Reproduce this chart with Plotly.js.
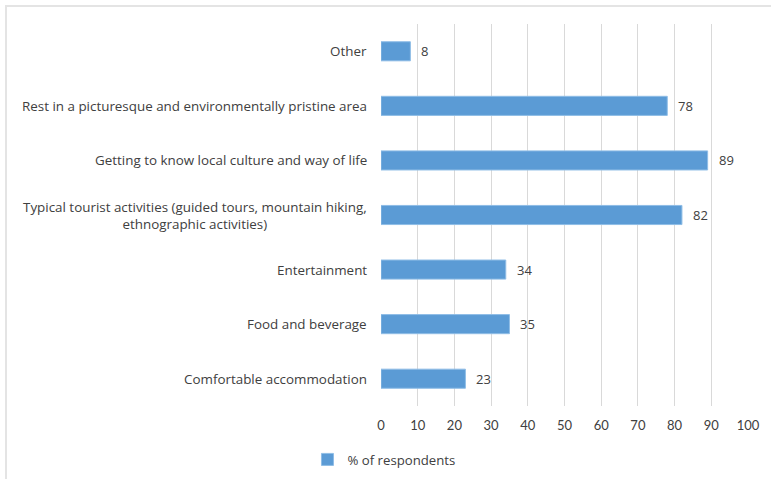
<!DOCTYPE html>
<html>
<head>
<meta charset="utf-8">
<script src="https://cdn.plot.ly/plotly-3.0.1.min.js"></script>
<style>
  html, body { margin: 0; padding: 0; background: #fff; overflow: hidden; }
  #wrap { position: relative; width: 771px; height: 479px; overflow: hidden; }
  #plot { width: 771px; height: 479px; }
  #frame { position: absolute; left: 5px; top: 5px; width: 800px; height: 520px;
           border: 2px solid #e4e4e4; pointer-events: none; box-sizing: border-box; }
</style>
</head>
<body>
<div id="wrap">
  <div id="plot"></div>
  <div id="frame"></div>
</div>
<script>
// Categories listed top to bottom as in the chart
const categories = [
  "Other",
  "Rest in a picturesque and environmentally pristine area",
  "Getting to know local culture and way of life",
  "Typical tourist activities (guided tours, mountain hiking,<br>ethnographic activities)",
  "Entertainment",
  "Food and beverage",
  "Comfortable accommodation"
];
const values = [8, 78, 89, 82, 34, 35, 23];
const seriesName = "% of respondents";
const xTicks = [0, 10, 20, 30, 40, 50, 60, 70, 80, 90, 100];

const FONT = "'Open Sans', Lato, sans-serif";
const TICKFONT = "Lato, 'Open Sans', sans-serif";

const trace = {
  type: "bar",
  orientation: "h",
  name: seriesName,
  y: categories,
  x: values,
  marker: { color: "#5B9BD5", line: { color: "#8fbde6", width: 1 } },
  hoverinfo: "x+y",
  showlegend: true
};

const annotations = [];
// category labels (centered multi-line, right anchored at the axis)
categories.forEach((c) => {
  annotations.push({
    xref: "paper", yref: "y", x: 0, y: c,
    xanchor: "right", yanchor: "middle", xshift: -12,
    text: c, showarrow: false, align: "center",
    font: { family: FONT, size: 13.4, color: "#404040" }
  });
});
// value labels
categories.forEach((c, i) => {
  annotations.push({
    xref: "x", yref: "y", x: values[i], y: c,
    xanchor: "left", yanchor: "middle", xshift: 9,
    text: String(values[i]), showarrow: false,
    font: { family: FONT, size: 13, color: "#404040" }
  });
});

const layout = {
  width: 771, height: 479,
  margin: { l: 381, r: 23, t: 24, b: 73, pad: 0 },
  paper_bgcolor: "#ffffff",
  plot_bgcolor: "#ffffff",
  font: { family: FONT, size: 13, color: "#595959" },
  bargap: 0.65,
  xaxis: {
    range: [0, 100],
    tickvals: xTicks,
    ticktext: xTicks.map(String),
    showgrid: true, gridcolor: "#d9d9d9", gridwidth: 1,
    zeroline: false, showline: false, ticks: "",
    ticklabelstandoff: 10,
    tickfont: { family: TICKFONT, size: 13, color: "#404040" },
    fixedrange: true
  },
  yaxis: {
    type: "category",
    autorange: "reversed",
    showticklabels: false,
    showgrid: false, zeroline: false, showline: false, ticks: "",
    fixedrange: true
  },
  showlegend: true,
  legend: {
    orientation: "h",
    xref: "container", yref: "container",
    x: 0.498, xanchor: "center",
    y: 0.04, yanchor: "middle",
    font: { family: FONT, size: 13.2, color: "#404040" },
    itemwidth: 30
  },
  annotations: annotations
};

Plotly.newPlot("plot", [trace], layout, { displayModeBar: false, staticPlot: true });
</script>
</body>
</html>
